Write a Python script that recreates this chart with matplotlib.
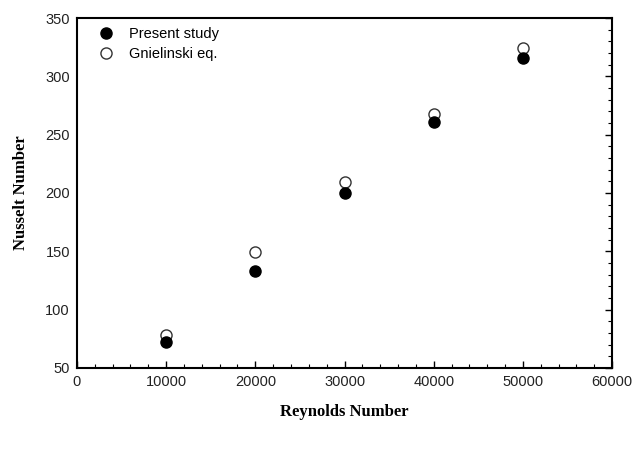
import matplotlib.pyplot as plt
from matplotlib.ticker import MultipleLocator

# Data
reynolds = [10000, 20000, 30000, 40000, 50000]
nu_present = [72, 133, 200, 261, 316]
nu_gnielinski = [78, 149, 209, 268, 324]

plt.rcParams['font.family'] = ['Liberation Sans', 'DejaVu Sans']

fig = plt.figure(figsize=(6.41, 4.53), dpi=100)
ax = fig.add_axes([0.12, 0.188, 0.835, 0.772])

ax.plot(reynolds, nu_present, 'o', color='black', markersize=8,
        label='Present study', zorder=3)
ax.plot(reynolds, nu_gnielinski, 'o', markerfacecolor='white',
        markeredgecolor='#333333', markeredgewidth=1.0, markersize=8,
        label='Gnielinski eq.', zorder=2)

ax.set_xlim(0, 60000)
ax.set_ylim(50, 350)
ax.xaxis.set_major_locator(MultipleLocator(10000))
ax.xaxis.set_minor_locator(MultipleLocator(2000))
ax.yaxis.set_major_locator(MultipleLocator(50))
ax.yaxis.set_minor_locator(MultipleLocator(10))

ax.tick_params(axis='x', which='both', direction='in', top=False, bottom=True,
               labelsize=10.5, pad=5, labelcolor='#222222')
ax.tick_params(axis='y', which='both', direction='in', left=False, right=True,
               labelleft=True, labelsize=10.5, pad=5, labelcolor='#222222')
ax.tick_params(which='major', length=5, width=1)
ax.tick_params(which='minor', length=3, width=0.8)

for s in ax.spines.values():
    s.set_linewidth(1.5)

ax.set_xlabel('Reynolds Number', family='Liberation Serif', fontweight='bold',
              fontsize=12, labelpad=11)
ax.set_ylabel('Nusselt Number', family='Liberation Serif', fontweight='bold',
              fontsize=12, labelpad=12)

ax.legend(loc='upper left', frameon=False, fontsize=10.5, handlelength=1.0,
          handletextpad=1.1, borderaxespad=0, labelspacing=0.4,
          bbox_to_anchor=(0.03, 0.99))

fig.savefig('out.png', dpi=100)
